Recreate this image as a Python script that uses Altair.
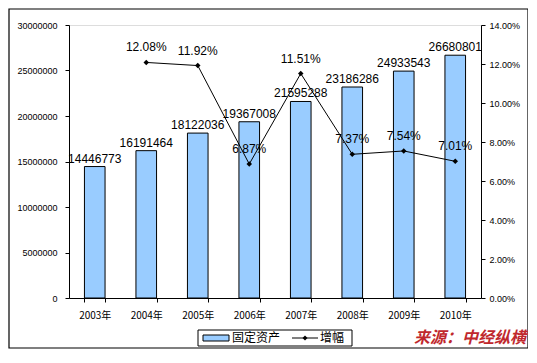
import altair as alt
import pandas as pd

years = ["2003年", "2004年", "2005年", "2006年", "2007年", "2008年", "2009年", "2010年"]
assets = [14446773, 16191464, 18122036, 19367008, 21595288, 23186286, 24933543, 26680801]
growth = [None, 0.1208, 0.1192, 0.0687, 0.1151, 0.0737, 0.0754, 0.0701]
left_ticks = [0, 5000000, 10000000, 15000000, 20000000, 25000000, 30000000]
right_ticks = [0, 0.02, 0.04, 0.06, 0.08, 0.10, 0.12, 0.14]

FONT = "Liberation Sans, Arial, Noto Sans CJK SC"
CJK = "Noto Sans CJK SC, Liberation Sans"

df = pd.DataFrame({"year": years, "assets": assets, "growth": growth})

x_axis = alt.Axis(labelAngle=0, labelFont=CJK, labelFontSize=10, labelColor="black",
                  domainColor="black", tickColor="black", tickBand="extent",
                  tickSize=4, labelPadding=8, labelOverlap=False)
x_scale = alt.Scale(paddingInner=0.6, paddingOuter=0.3)

def X():
    return alt.X("year:N", sort=years, title=None, scale=x_scale, axis=x_axis)

left_axis = alt.Axis(values=left_ticks, format="d", labelFont=FONT, labelFontSize=9,
                     labelColor="black", domainColor="black", tickColor="black", tickSize=4,
                     labelPadding=8, grid=False, orient="left", labelOverlap=False)
right_axis = alt.Axis(values=right_ticks, format=".2%", labelFont=FONT, labelFontSize=9,
                      labelColor="black", domainColor="black", tickColor="black", tickSize=4,
                      labelPadding=4, grid=False, orient="right", labelOverlap=False)

def YL():
    return alt.Y("assets:Q", title=None, scale=alt.Scale(domain=[0, 30000000], nice=False), axis=left_axis)

def YR():
    return alt.Y("growth:Q", title=None, scale=alt.Scale(domain=[0, 0.14], nice=False), axis=right_axis)

base = alt.Chart(df)

bars = base.mark_bar(fill="#99CCFF", stroke="black", strokeWidth=1).encode(x=X(), y=YL())
bar_text = base.mark_text(baseline="bottom", dy=-1, font=FONT, fontSize=12, color="black").encode(
    x=X(), y=YL(), text=alt.Text("assets:Q", format="d"))

one = alt.Data(values=[{"a": 1}])
deco_border = alt.Chart(one).mark_rect(fill=None, stroke="black", strokeWidth=1.2).encode(
    x=alt.value(-60), x2=alt.value(459), y=alt.value(-16), y2=alt.value(323))
leg_box = alt.Chart(one).mark_rect(fill="white", stroke="black", strokeWidth=1).encode(
    x=alt.value(129), x2=alt.value(283), y=alt.value(305), y2=alt.value(321))
leg_swatch = alt.Chart(one).mark_rect(fill="#99CCFF", stroke="black", strokeWidth=1).encode(
    x=alt.value(134), x2=alt.value(160), y=alt.value(310), y2=alt.value(316))
leg_t1 = alt.Chart(one).mark_text(align="left", baseline="middle", font=CJK, fontSize=12,
                                  color="black", text="固定资产").encode(
    x=alt.value(163), y=alt.value(313))
leg_line = alt.Chart(one).mark_rule(color="black", strokeWidth=1).encode(
    x=alt.value(223), x2=alt.value(249), y=alt.value(313))
leg_dot = alt.Chart(one).mark_point(shape="diamond", filled=True, color="black", size=25, opacity=1).encode(
    x=alt.value(236), y=alt.value(313))
leg_t2 = alt.Chart(one).mark_text(align="left", baseline="middle", font=CJK, fontSize=12,
                                  color="black", text="增幅").encode(
    x=alt.value(251), y=alt.value(313))
source = alt.Chart(one).mark_text(align="right", baseline="middle", font=CJK, fontSize=16,
                                  fontWeight="bold", fontStyle="italic", color="#C0282D",
                                  text="来源：中经纵横").encode(
    x=alt.value(457), y=alt.value(313))

left = alt.layer(bars, bar_text, deco_border, leg_box, leg_swatch, leg_t1, leg_line, leg_dot, leg_t2, source)

lbase = base.transform_filter("datum.growth != null")
line = lbase.mark_line(color="black", strokeWidth=1).encode(x=X(), y=YR())
pts = lbase.mark_point(shape="diamond", filled=True, color="black", size=30, opacity=1).encode(
    x=X(), y=YR())
ptext = lbase.mark_text(baseline="bottom", dy=-8, font=FONT, fontSize=12, color="black").encode(
    x=X(), y=YR(), text=alt.Text("growth:Q", format=".2%"))

right = alt.layer(line, pts, ptext)

chart = alt.layer(left, right).resolve_scale(y="independent").properties(
    width=412, height=273,
    autosize="none",
    padding={"left": 61, "top": 17, "right": 47, "bottom": 51},
).configure_view(stroke="#808080", strokeWidth=1).configure_axis(labelOverlap=False).configure(background="white")

chart.save("out.html", embed_options={"renderer": "svg", "actions": False})
